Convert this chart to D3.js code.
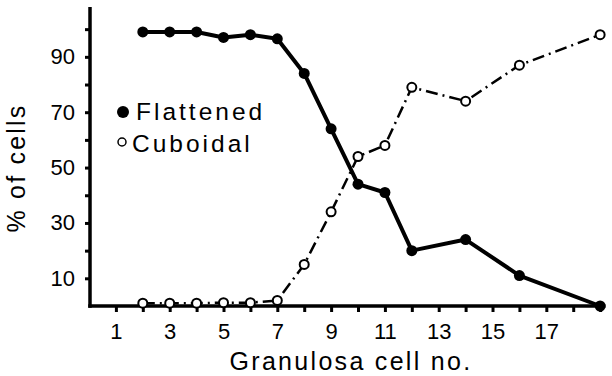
<!DOCTYPE html>
<html><head><meta charset="utf-8">
<script src="https://cdn.jsdelivr.net/npm/d3@7"></script>
<style>
body{margin:0;background:#fff}
svg{display:block}
text{font-family:"Liberation Sans",Arial,Helvetica,sans-serif;fill:#000}
</style>
</head><body>
<svg id="c" width="612" height="376"></svg>
<script>
const cellNo = [2,3,4,5,6,7,8,9,10,11,12,14,16,19];
const flattened = [99,99,99,97,98,96.5,84,64,44,41,20,24,11,0];
const cuboidal = [1,1,1,1.2,1.2,2,15,34,54,58,79,74,87,98];
const xTicks = d3.range(1,20);
const xTickLabels = [1,3,5,7,9,11,13,15,17];
const yTicks = d3.range(10,101,10);
const yTickLabels = [10,30,50,70,90];
const seriesNames = ["Flattened","Cuboidal"];

const svg = d3.select("#c");
const x = d3.scaleLinear().domain([0,19.2]).range([89,605.5]);
const y = d3.scaleLinear().domain([0,108]).range([306,7]);
const axisX0 = 90;

// X axis
const gx = svg.append("g").attr("transform",`translate(0,${y(0)})`)
  .call(d3.axisBottom(x).tickValues(xTicks).tickSize(6).tickPadding(11)
    .tickFormat(d => xTickLabels.includes(d) ? d : ""));
gx.select(".domain").remove();
gx.selectAll(".tick line").attr("stroke","#000").attr("stroke-width",3);
gx.selectAll(".tick text").attr("font-size",22).attr("font-family","Liberation Sans, Arial, sans-serif").attr("fill","#000");
svg.append("line").attr("x1",axisX0-1.75).attr("x2",x(19.2)).attr("y1",y(0)).attr("y2",y(0))
  .attr("stroke","#000").attr("stroke-width",3.5);

// Y axis
const gy = svg.append("g").attr("transform",`translate(${axisX0},0)`)
  .call(d3.axisLeft(y).tickValues(yTicks).tickSize(5).tickPadding(10)
    .tickFormat(d => yTickLabels.includes(d) ? d : ""));
gy.select(".domain").remove();
gy.selectAll(".tick line").attr("stroke","#000").attr("stroke-width",3);
gy.selectAll(".tick text").attr("font-size",22).attr("font-family","Liberation Sans, Arial, sans-serif").attr("fill","#000");
svg.append("line").attr("x1",axisX0).attr("x2",axisX0).attr("y1",y(108)).attr("y2",y(0)+1.75)
  .attr("stroke","#000").attr("stroke-width",3.5);

const line = d3.line().x((d,i)=>x(cellNo[i])).y(d=>y(d));

// Cuboidal dash-dot
svg.append("path").datum(cuboidal).attr("d",line).attr("fill","none")
  .attr("stroke","#000").attr("stroke-width",2.5).attr("stroke-dasharray","12,5,2,5");
// Flattened solid
svg.append("path").datum(flattened).attr("d",line).attr("fill","none")
  .attr("stroke","#000").attr("stroke-width",4).attr("stroke-linejoin","round");

svg.selectAll("circle.cub").data(cuboidal).enter().append("circle").attr("class","cub")
  .attr("cx",(d,i)=>x(cellNo[i])).attr("cy",d=>y(d)).attr("r",4.5)
  .attr("fill","#fff").attr("stroke","#000").attr("stroke-width",2);
svg.selectAll("circle.fla").data(flattened).enter().append("circle").attr("class","fla")
  .attr("cx",(d,i)=>x(cellNo[i])).attr("cy",d=>y(d)).attr("r",5.5).attr("fill","#000");

// Legend
svg.append("circle").attr("cx",123).attr("cy",112).attr("r",6).attr("fill","#000");
svg.append("text").attr("x",136).attr("y",120).attr("font-size",24.5).attr("letter-spacing",3).text(seriesNames[0]);
svg.append("circle").attr("cx",122).attr("cy",142).attr("r",4).attr("fill","#fff").attr("stroke","#000").attr("stroke-width",1.5);
svg.append("text").attr("x",132).attr("y",152).attr("font-size",24.5).attr("letter-spacing",3).text(seriesNames[1]);

// Axis titles
svg.append("text").attr("x",351).attr("y",370).attr("text-anchor","middle")
  .attr("font-size",25).attr("letter-spacing",2.3).text("Granulosa cell no.");
svg.append("text").attr("transform","translate(25,168) rotate(-90)").attr("text-anchor","middle")
  .attr("font-size",25).attr("letter-spacing",2.2).text("% of cells");
</script>
</body></html>
